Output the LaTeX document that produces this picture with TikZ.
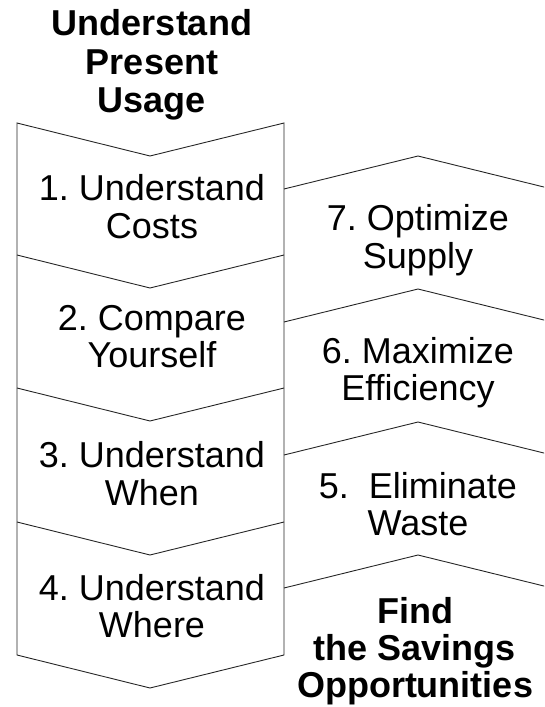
\documentclass[tikz,border=0pt]{standalone}
\usepackage{fontspec}
\setmainfont{Liberation Sans}
\frenchspacing
\begin{document}
\begin{tikzpicture}[x=1pt,y=-1pt,
  lbl/.style={font=\fontsize{36}{38}\selectfont\frenchspacing, anchor=base, inner sep=0pt},
  ttl/.style={font=\fontsize{36}{38}\selectfont\bfseries, anchor=base, inner sep=0pt},
  edge/.style={draw=black!85, line width=0.9pt, line join=miter}]
\useasboundingbox (0,0) rectangle (544,707);
\clip (0,0) rectangle (544,707);
% left column
\draw[edge] (17,123) -- (150,156) -- (284,123) -- (284,655) -- (150,688) -- (17,655) -- cycle;
\foreach \c in {255,388,522} \draw[edge] (17,\c) -- (150,\c+33) -- (284,\c);
% right column
\foreach \c in {189,322,455,588} \draw[edge] (284,\c) -- (418,\c-33) -- (552,\c);
% title
\node[ttl] (t1) at (152,35) {Understand};
\node[ttl] (t2) at (152,74) {Present};
\node[ttl] (t3) at (152,112) {Usage};
% left labels
\node[lbl] (a1) at (152,200) {1. Understand};
\node[lbl] (a2) at (152,238) {Costs};
\node[lbl] (b1) at (152,330) {2. Compare};
\node[lbl] (b2) at (152,367) {Yourself};
\node[lbl] (c1) at (152,467) {3. Understand};
\node[lbl] (c2) at (152,505) {When};
\node[lbl] (d1) at (152,600) {4. Understand};
\node[lbl] (d2) at (152,637) {Where};
% right labels
\node[lbl] (g1) at (418,230) {7. Optimize};
\node[lbl] (g2) at (418,268) {Supply};
\node[lbl] (f1) at (418,363) {6. Maximize};
\node[lbl] (f2) at (418,400) {Efficiency};
\node[lbl] (e1) at (418,498) {5.\ \ Eliminate};
\node[lbl] (e2) at (418,535) {Waste};
\node[ttl] (s1) at (415,623) {Find};
\node[ttl] (s2) at (415,660) {the Savings};
\node[ttl] (s3) at (415,697) {Opportunities};
\end{tikzpicture}
\end{document}
